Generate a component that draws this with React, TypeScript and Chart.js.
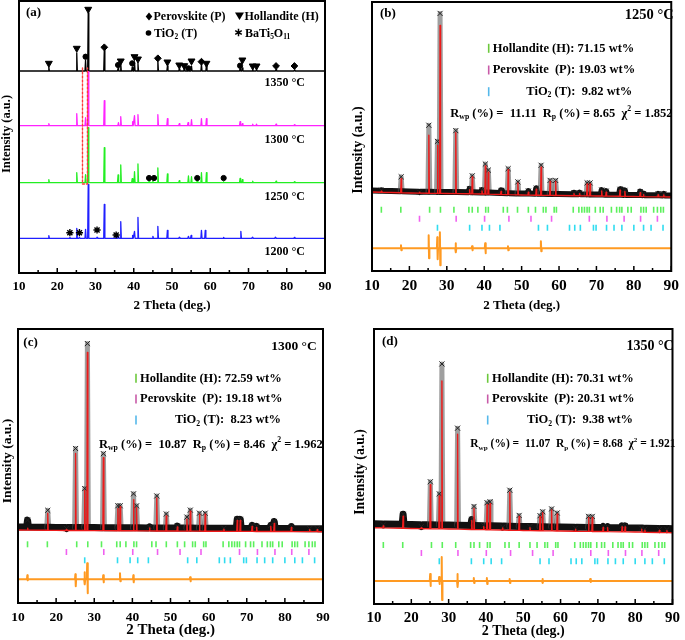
import React, { useEffect, useRef } from 'react';
import { Chart, registerables } from 'chart.js';
Chart.register(...registerables);

const FONT = '"Liberation Serif", "Times New Roman", Times, serif';

// ===================== Panel (a): stacked XRD patterns =====================
const A_LABELS = ['1200 °C', '1250 °C', '1300 °C', '1350 °C'];
const A_OFFSETS = [34.7, 90.3, 147.3, 202];
const A_COLORS = ['#2020ff', '#22ee22', '#ff22ff', '#000000'];

const A_1200_X = [17.8, 23.3, 25.1, 25.8, 27.4, 28.1, 30.4, 32.3, 35.4, 36.0, 36.6, 39.7, 40.2, 41.1, 45.0, 46.3, 48.8, 51.9, 54.3, 55.0, 57.7, 58.7, 63.5, 68.0, 71.0, 77.0, 82.0];
const A_1200_H = [2.6, 1, 10, 1, 9, 54, 1, 34, 1, 2, 16.7, 3, 7, 21, 2, 12, 8, 1, 2, 3, 8, 8, 1, 7, 1, 1, 0.8];
const A_1250_X = [17.8, 25.1, 27.4, 28.1, 32.3, 35.9, 36.6, 39.6, 40.2, 41.1, 44.0, 45.0, 46.3, 48.8, 51.9, 54.3, 55.1, 56.6, 57.7, 59.0, 63.5, 67.8, 68.4, 71.1, 77.2, 82.0];
const A_1250_H = [3, 10, 8, 55, 35, 7.7, 17.7, 4, 11, 18.7, 1.5, 1.5, 14.7, 8.7, 2, 6.7, 6, 2, 10, 10, 1, 4.3, 3, 1.5, 1.5, 1];
const A_1300_X = [17.8, 25.1, 27.4, 28.1, 32.3, 36.0, 36.6, 39.7, 40.2, 41.1, 46.3, 48.8, 51.9, 54.2, 55.1, 57.7, 59.0, 67.8, 68.4, 71.1, 72.1, 77.2, 82.0];
const A_1300_H = [2, 12, 8, 54, 25, 3, 9, 4, 10, 11, 11, 7, 2, 3, 6, 7, 7, 4, 2, 1.5, 1.5, 1.5, 1];
const A_1350_X = [17.8, 25.1, 27.4, 28.1, 32.3, 35.9, 36.6, 39.6, 40.2, 41.1, 46.3, 48.8, 51.9, 53.2, 54.3, 55.1, 57.7, 59.0, 67.8, 68.4, 71.1, 72.1, 77.2, 82.0];
const A_1350_H = [4, 18, 11, 58, 21, 3, 8, 4, 9, 8, 11, 5, 2, 2, 3, 5, 7, 6, 3, 3, 1.5, 1.5, 1.5, 1];

// phase markers in panel (a)
const A_MARK_H_X = [17.8, 25.1, 28.1, 36.6, 40.2, 41.1, 48.8, 51.9, 53.2, 55.1, 59.0, 68.4, 71.1, 72.1];
const A_MARK_H_Y = [209.7, 224.7, 263.7, 212, 216.3, 214, 211, 208, 207.3, 212, 209.7, 213, 207, 207];
const A_MARK_P_X = [32.3, 46.3, 57.7, 77.2, 82.0];
const A_MARK_P_Y = [225.7, 214.7, 211.3, 207, 207];
const A_MARK_T_X = [27.4, 35.9, 39.6, 54.3, 67.8, 44.0, 45.3, 56.6, 63.5];
const A_MARK_T_Y = [216.3, 208, 209.7, 204.7, 207.3, 95, 95, 95, 95];
const A_MARK_B_X = [23.3, 25.8, 30.4, 35.4];
const A_MARK_B_Y = [40.3, 40.3, 43, 38];
const A_BOX_X = [26.6, 26.6, 27.9, 27.9];
const A_BOX_Y = [205, 89, 89, 205];

// ===================== Rietveld panels (b), (c), (d) =====================
const BRAGG_H = [12.5, 17.7, 25.4, 28.3, 31.9, 35.9, 36.8, 38.3, 40.4, 41.1, 45.1, 46.2, 48.9, 51.8, 53.7, 55.8, 56.5, 58.7, 59.3, 63.8, 65.3, 66.1, 66.8, 67.5, 68.1, 69.7, 71.0, 71.8, 74.0, 75.4, 76.2, 76.8, 78.4, 79.3, 81.9, 82.6, 83.3, 85.3, 86.3, 87.2, 87.9];
const BRAGG_P = [22.7, 32.5, 40.1, 46.6, 52.5, 58.0, 68.1, 72.8, 77.4, 81.8, 86.3];
const BRAGG_T = [27.5, 36.1, 39.4, 41.4, 44.2, 54.5, 56.9, 62.8, 64.2, 65.7, 69.2, 69.9, 72.7, 74.7, 76.8, 80.0, 82.6, 84.6, 87.8];

const BG_X = [10, 20, 30, 40, 50, 60, 70, 80, 90];

const B_BG = [79, 78, 77.5, 77, 76, 75.5, 75, 74.5, 74];
const B_PEAK_X = [12.5, 17.8, 22.7, 25.2, 27.5, 28.2, 32.4, 36.1, 36.8, 39.4, 40.3, 41.1, 44.5, 46.4, 49.0, 51.8, 53.9, 55.2, 57.6, 59.1, 64.0, 65.5, 67.5, 68.3, 71.4, 72.6, 76.3, 77.6, 81.7, 82.6, 86.5, 88.0];
const B_OBS = [2, 16, 1, 68, 52, 180, 63, 5, 18, 4, 30, 24, 4, 26, 13, 4, 7, 30, 15, 15, 3, 3, 13, 13, 6, 5, 7, 6, 5, 3, 3, 3];
const B_CALC = [1, 14, 1, 58, 48, 168, 61, 4, 17, 3, 28, 22, 3, 25, 12, 3, 6, 28, 14, 14, 2, 2, 12, 12, 5, 4, 6, 5, 4, 2, 2, 2];
const B_DIFF_X = [17.8, 25.2, 27.5, 28.2, 32.4, 36.8, 40.3, 46.4, 55.2];
const B_DIFF_UP = [3, 13, 11, 16, 5, 2, 5, 2, 7];
const B_DIFF_DN = [2, 10, 11, 17, 4, 2, 5, 2, 3];
const B_DIFF_BASE = 22.7;
const B_ROWS = [61.3, 52.3, 43.2];

const C_BG = [73, 72.6, 72.4, 72.2, 72, 71.8, 71.6, 71.5, 71.3];
const C_PEAK_X = [12.5, 17.8, 22.7, 25.1, 27.5, 28.2, 32.4, 36.2, 36.8, 40.3, 41.1, 44.5, 46.4, 48.9, 51.8, 54.3, 55.2, 57.6, 59.1, 64.0, 67.5, 68.3, 71.4, 72.6, 76.3, 77.2, 81.7, 86.5, 88.5];
const C_OBS = [10, 20, 2, 82, 42, 187, 77, 25, 25, 37, 25, 4, 35, 17, 5, 14, 21, 18, 18, 3, 12, 12, 6, 5, 6, 10, 5, 3, 3];
const C_CALC = [2, 17, 1, 77, 40, 178, 73, 22, 24, 31, 23, 3, 33, 15, 4, 12, 20, 17, 17, 2, 11, 11, 5, 4, 5, 8, 4, 2, 2];
const C_DIFF_X = [12.5, 25.1, 27.5, 28.2, 32.4, 36.8, 40.3, 55.2];
const C_DIFF_UP = [4, 5, 7, 16, 4, 6, 4, 2];
const C_DIFF_DN = [1, 7, 5, 14, 3, 2, 3, 2];
const C_DIFF_BASE = 23.7;
const C_ROWS = [58.7, 51, 42.7];

const D_BG = [76.3, 75.5, 75, 74.3, 73.5, 73, 72.5, 72, 71.3];
const D_PEAK_X = [12.5, 17.8, 22.7, 25.1, 27.5, 28.2, 32.4, 36.2, 36.8, 39.4, 40.3, 41.1, 44.5, 46.4, 48.9, 51.8, 54.5, 55.2, 57.6, 59.1, 64.0, 67.5, 68.5, 71.4, 72.6, 76.5, 77.3, 81.7, 82.6, 86.5, 88.5];
const D_OBS = [3, 14, 2, 47, 35, 165, 101, 10, 23, 4, 27, 28, 3, 40, 15, 4, 15, 19, 22, 18, 3, 15, 15, 5, 5, 6, 6, 4, 3, 3, 3];
const D_CALC = [2, 12, 1, 44, 33, 148, 95, 9, 21, 3, 25, 26, 2, 38, 14, 3, 14, 18, 21, 17, 2, 14, 14, 4, 4, 5, 5, 3, 2, 2, 2];
const D_DIFF_X = [25.1, 27.5, 28.2, 32.4, 36.8, 40.3, 46.4, 55.2, 68];
const D_DIFF_UP = [7, 4, 24, 7, 3, 3, 2, 2, 2];
const D_DIFF_DN = [5, 3, 19, 6, 2, 3, 2, 2, 1];
const D_DIFF_BASE = 23;
const D_ROWS = [59, 51, 42.8];

// refinement results (b, c, d)
const R_TEMPS = ['1250 °C', '1300 °C', '1350 °C'];
const WT_H = [71.15, 72.59, 70.31];
const WT_P = [19.03, 19.18, 20.31];
const WT_T = [9.82, 8.23, 9.38];
const R_WP = [11.11, 10.87, 11.07];
const R_P = [8.65, 8.46, 8.68];
const CHI2 = [1.852, 1.962, 1.921];

// ===================== helpers =====================
type Pt = { x: number; y: number; m?: boolean };

function interp(xs: number[], ys: number[], x: number) {
  if (x <= xs[0]) return ys[0];
  for (let i = 1; i < xs.length; i++) {
    if (x <= xs[i]) {
      const t = (x - xs[i - 1]) / (xs[i] - xs[i - 1]);
      return ys[i - 1] + t * (ys[i] - ys[i - 1]);
    }
  }
  return ys[ys.length - 1];
}

function profile(bgX: number[], bgY: number[], px: number[], ph: number[], shift: number, hw: number): Pt[] {
  const pts: Pt[] = [];
  bgX.forEach((x, i) => {
    if (!px.some((p) => Math.abs(p - x) <= hw + 0.05)) pts.push({ x, y: bgY[i] + shift });
  });
  px.forEach((x, i) => {
    const b = interp(bgX, bgY, x);
    pts.push({ x: x - hw, y: b + shift }, { x, y: b + ph[i], m: true }, { x: x + hw, y: b + shift });
  });
  return pts.sort((a, b) => a.x - b.x);
}

function diffLine(base: number, dx: number[], up: number[], dn: number[]): Pt[] {
  const pts: Pt[] = [{ x: 10, y: base }, { x: 90, y: base }];
  dx.forEach((x, i) => {
    pts.push({ x: x - 0.15, y: base }, { x: x - 0.05, y: base + up[i] }, { x: x + 0.05, y: base - dn[i] }, { x: x + 0.15, y: base });
  });
  return pts.sort((a, b) => a.x - b.x);
}

const zip = (xs: number[], ys: number[]): Pt[] => xs.map((x, i) => ({ x, y: ys[i] }));
const row = (xs: number[], level: number): Pt[] => xs.map((x) => ({ x, y: level }));

type Seg = [string, string?];
interface TextItem { x: number; y: number; size: number; segs: Seg[]; align?: string; rot?: boolean; color?: string }

function segFont(size: number, mode?: string) {
  const s = mode === 'sub' || mode === 'sup' ? size * 0.62 : size;
  return `bold ${s}px ${FONT}`;
}

function drawRich(ctx: CanvasRenderingContext2D, t: TextItem) {
  ctx.save();
  ctx.fillStyle = t.color || '#000';
  ctx.textBaseline = 'middle';
  ctx.textAlign = 'left';
  let total = 0;
  const widths = t.segs.map(([s, m]) => {
    ctx.font = segFont(t.size, m);
    const w = ctx.measureText(s).width;
    total += w;
    return w;
  });
  ctx.translate(t.x, t.y);
  if (t.rot) ctx.rotate(-Math.PI / 2);
  let x = t.align === 'right' ? -total : t.align === 'center' ? -total / 2 : 0;
  t.segs.forEach(([s, m], i) => {
    ctx.font = segFont(t.size, m);
    const dy = m === 'sub' ? t.size * 0.3 : m === 'sup' ? -t.size * 0.35 : 0;
    ctx.fillText(s, x, dy);
    x += widths[i];
  });
  ctx.restore();
}

function drawSymbol(ctx: CanvasRenderingContext2D, type: string, x: number, y: number) {
  ctx.save();
  ctx.fillStyle = '#000';
  ctx.strokeStyle = '#000';
  ctx.beginPath();
  if (type === 'tri') {
    ctx.moveTo(x - 4.5, y - 3.5); ctx.lineTo(x + 4.5, y - 3.5); ctx.lineTo(x, y + 4); ctx.closePath(); ctx.fill();
  } else if (type === 'diamond') {
    ctx.moveTo(x, y - 4); ctx.lineTo(x + 3.3, y); ctx.lineTo(x, y + 4); ctx.lineTo(x - 3.3, y); ctx.closePath(); ctx.fill();
  } else if (type === 'dot') {
    ctx.arc(x, y, 2.8, 0, Math.PI * 2); ctx.fill();
  } else {
    ctx.lineWidth = 1.5;
    for (let k = 0; k < 3; k++) {
      const a = (k * Math.PI) / 3 + Math.PI / 2;
      ctx.moveTo(x - 3.8 * Math.cos(a), y - 3.8 * Math.sin(a));
      ctx.lineTo(x + 3.8 * Math.cos(a), y + 3.8 * Math.sin(a));
    }
    ctx.stroke();
  }
  ctx.restore();
}

// ===================== chart builders =====================
const GREEN_TICK = '#5cf05c';
const MAGENTA_TICK = '#f060f0';
const CYAN_TICK = '#30dcf0';
const GREEN_BAR = '#6cc83c';
const MAGENTA_BAR = '#c85aa8';
const CYAN_BAR = '#55b8ea';

interface PanelCfg {
  id: string; left: number; top: number; w: number; h: number;
  pad: { l: number; r: number; t: number }; axisH: number; yMax: number;
  tickSize: number; tickPad: number; titleSize: number; titlePadB: number;
  datasets: any[]; texts: TextItem[]; bars: { x: number; y: number; c: string }[];
  symbols: { t: string; x: number; y: number }[];
}

function makeConfig(cfg: PanelCfg): any {
  const decor = {
    id: 'decor' + cfg.id,
    afterDatasetsDraw(chart: any) {
      const { ctx, chartArea: ca } = chart;
      const xs = chart.scales.x;
      ctx.save();
      ctx.strokeStyle = '#000';
      ctx.lineWidth = 1.5;
      ctx.beginPath();
      for (let v = 10; v <= 90; v += 5) {
        const p = xs.getPixelForValue(v);
        const L = v % 10 === 0 ? 5 : 3;
        ctx.moveTo(p, ca.bottom);
        ctx.lineTo(p, ca.bottom - L);
      }
      ctx.stroke();
      ctx.lineWidth = 2;
      ctx.strokeRect(ca.left, ca.top, ca.right - ca.left, ca.bottom - ca.top);
      ctx.restore();
    },
    afterDraw(chart: any) {
      const ctx = chart.ctx as CanvasRenderingContext2D;
      ctx.save();
      ctx.translate(-cfg.left, -cfg.top);
      cfg.texts.forEach((t) => drawRich(ctx, t));
      cfg.bars.forEach((b) => {
        ctx.strokeStyle = b.c;
        ctx.lineWidth = 1.6;
        ctx.beginPath();
        ctx.moveTo(b.x, b.y - 4.5);
        ctx.lineTo(b.x, b.y + 4.5);
        ctx.stroke();
      });
      cfg.symbols.forEach((s) => drawSymbol(ctx, s.t, s.x, s.y));
      ctx.restore();
    },
  };
  return {
    type: 'line',
    data: { datasets: cfg.datasets },
    plugins: [decor],
    options: {
      responsive: false,
      animation: false,
      devicePixelRatio: 1,
      layout: { padding: { left: cfg.pad.l, right: cfg.pad.r, top: cfg.pad.t, bottom: 0 }, autoPadding: false },
      plugins: { legend: { display: false }, tooltip: { enabled: false } },
      elements: { point: { radius: 0 }, line: { tension: 0, borderJoinStyle: 'round', borderCapStyle: 'round' } },
      scales: {
        x: {
          type: 'linear', min: 10, max: 90,
          grid: { display: false, drawTicks: false, tickLength: 0 }, border: { display: false },
          ticks: { stepSize: 10, autoSkip: false, maxRotation: 0, padding: cfg.tickPad, color: '#000', font: { family: FONT, size: cfg.tickSize, weight: 'bold' } },
          title: { display: true, text: '2 Theta (deg.)', color: '#000', font: { family: FONT, size: cfg.titleSize, weight: 'bold' }, padding: { top: 0, bottom: cfg.titlePadB } },
          afterFit: (s: any) => { s.height = cfg.axisH; },
        },
        y: { display: false, min: 0, max: cfg.yMax },
      },
    },
  };
}

function panelA(): PanelCfg {
  const xs = [A_1200_X, A_1250_X, A_1300_X, A_1350_X];
  const hs = [A_1200_H, A_1250_H, A_1300_H, A_1350_H];
  const lines = xs.map((px, i) => ({
    data: profile([10, 90], [A_OFFSETS[i], A_OFFSETS[i]], px, hs[i], 0, 0.15),
    borderColor: A_COLORS[i], borderWidth: 1.3, pointRadius: 0, order: 3,
  }));
  const mk = (d: Pt[], style: string, r: number, rot = 0, bw = 1) => ({
    data: d, showLine: false, pointStyle: style, pointRadius: r, pointRotation: rot,
    pointBackgroundColor: '#000', pointBorderColor: '#000', pointBorderWidth: bw, order: 1,
  });
  const temps = A_LABELS.map((lab, i) => ({ x: 305, y: [251.5, 196.5, 140, 83][i], size: 12, align: 'right', segs: [[lab]] as Seg[] }));
  return {
    id: 'a', left: 0, top: 0, w: 342, h: 320,
    pad: { l: 19, r: 17, t: 1 }, axisH: 47, yMax: 272,
    tickSize: 13, tickPad: 6, titleSize: 13, titlePadB: 7,
    datasets: [
      { data: zip(A_BOX_X, A_BOX_Y), borderColor: '#ff3a3a', borderWidth: 1.4, borderDash: [2, 2], pointRadius: 0, order: 0 },
      mk(zip(A_MARK_H_X, A_MARK_H_Y), 'triangle', 4, 180),
      mk(zip(A_MARK_P_X, A_MARK_P_Y), 'rectRot', 3.4),
      mk(zip(A_MARK_T_X, A_MARK_T_Y), 'circle', 2.6),
      mk(zip(A_MARK_B_X, A_MARK_B_Y), 'star', 3.6, 0, 1.4),
      ...lines,
    ],
    texts: [
      { x: 26, y: 12.7, size: 13, segs: [['(a)']] },
      { x: 153.5, y: 16.5, size: 12, segs: [['Perovskite (P)']] },
      { x: 244.5, y: 16.5, size: 12, segs: [['Hollandite (H)']] },
      { x: 154, y: 33.5, size: 12, segs: [['TiO'], ['2', 'sub'], [' (T)']] },
      { x: 245, y: 33.5, size: 12, segs: [['BaTi'], ['5', 'sub'], ['O'], ['11', 'sub']] },
      ...temps,
      { x: 7, y: 134, size: 12.5, rot: true, align: 'center', segs: [['Intensity (a.u.)']] },
    ],
    bars: [],
    symbols: [
      { t: 'diamond', x: 149, y: 16.5 },
      { t: 'tri', x: 239.5, y: 16 },
      { t: 'dot', x: 148.5, y: 33 },
      { t: 'star', x: 238.5, y: 32.5 },
    ],
  };
}

function rietDatasets(bg: number[], px: number[], obs: number[], calc: number[], shift: number, obsW: number,
  dBase: number, dx: number[], up: number[], dn: number[], rows: number[]) {
  const steep = (c: any) => Math.abs(c.p1.y - c.p0.y) > 10;
  return [
    { data: profile(BG_X, bg, px, calc, 0, 0.12), borderColor: '#ee1a1a', borderWidth: 1.4, pointRadius: 0, order: 0 },
    {
      data: profile(BG_X, bg, px, obs, shift, 0.25), borderColor: '#111', borderWidth: obsW, order: 1,
      segment: { borderColor: (c: any) => (steep(c) ? 'rgba(80,80,80,0.55)' : undefined), borderWidth: (c: any) => (steep(c) ? 5 : undefined) },
      pointStyle: 'crossRot', pointRadius: (c: any) => (c.raw && c.raw.m ? 3.6 : 0), pointBorderColor: '#222', pointBorderWidth: 1,
    },
    { data: diffLine(dBase, dx, up, dn), borderColor: '#ff9a22', borderWidth: 2, pointRadius: 0, order: 2 },
    { data: row(BRAGG_H, rows[0]), showLine: false, pointStyle: 'line', pointRotation: 90, pointRadius: 3, pointBorderWidth: 1.6, pointBorderColor: GREEN_TICK, order: 2 },
    { data: row(BRAGG_P, rows[1]), showLine: false, pointStyle: 'line', pointRotation: 90, pointRadius: 3, pointBorderWidth: 1.6, pointBorderColor: MAGENTA_TICK, order: 2 },
    { data: row(BRAGG_T, rows[2]), showLine: false, pointStyle: 'line', pointRotation: 90, pointRadius: 3, pointBorderWidth: 1.6, pointBorderColor: CYAN_TICK, order: 2 },
  ];
}

function rietTexts(k: number, tag: string, tagX: number, tagY: number, tempX: number, tempY: number, tempSize: number,
  legX: number, legYs: number[], tiX: number, rX: number, rY: number, rSize: number, yTitleX: number, yTitleY: number, yTitleSize: number): TextItem[] {
  return [
    { x: tagX, y: tagY, size: 13, segs: [[tag]] },
    { x: tempX, y: tempY, size: tempSize, align: 'right', segs: [[R_TEMPS[k]]] },
    { x: legX, y: legYs[0], size: 12.5, segs: [[`Hollandite (H): ${WT_H[k].toFixed(2)} wt%`]] },
    { x: legX, y: legYs[1], size: 12.5, segs: [[`Perovskite  (P): ${WT_P[k].toFixed(2)} wt%`]] },
    { x: tiX, y: legYs[2], size: 12.5, segs: [['TiO'], ['2', 'sub'], [` (T):  ${WT_T[k].toFixed(2)} wt%`]] },
    {
      x: rX, y: rY, size: rSize,
      segs: [['R'], ['wp', 'sub'], [` (%) =  ${R_WP[k].toFixed(2)}  R`], ['p', 'sub'], [` (%) = ${R_P[k].toFixed(2)}  χ`], ['2', 'sup'], [` = ${CHI2[k].toFixed(3)}`]],
    },
    { x: yTitleX, y: yTitleY, size: yTitleSize, rot: true, align: 'center', segs: [['Intensity (a.u.)']] },
  ];
}

const legBars = (x: number, ys: number[]) => [
  { x, y: ys[0], c: GREEN_BAR }, { x, y: ys[1], c: MAGENTA_BAR }, { x, y: ys[2], c: CYAN_BAR },
];

function panelB(): PanelCfg {
  const ys = [48.3, 70, 91.7];
  return {
    id: 'b', left: 342, top: 0, w: 343, h: 320,
    pad: { l: 30, r: 9, t: 2 }, axisH: 49, yMax: 269,
    tickSize: 15.5, tickPad: 6, titleSize: 13, titlePadB: 7,
    datasets: rietDatasets(B_BG, B_PEAK_X, B_OBS, B_CALC, 1.5, 6, B_DIFF_BASE, B_DIFF_X, B_DIFF_UP, B_DIFF_DN, B_ROWS),
    texts: rietTexts(0, '(b)', 380, 13.3, 673.7, 15, 14.5, 492.7, ys, 526.3, 450.3, 113.3, 12.5, 358.7, 150, 14),
    bars: legBars(488.7, ys),
    symbols: [],
  };
}

function panelC(): PanelCfg {
  const ys = [378.3, 399, 420];
  return {
    id: 'c', left: 0, top: 320, w: 342, h: 320,
    pad: { l: 18, r: 19, t: 9 }, axisH: 37, yMax: 274,
    tickSize: 13.5, tickPad: 6, titleSize: 15, titlePadB: 1,
    datasets: rietDatasets(C_BG, C_PEAK_X, C_OBS, C_CALC, 3, 7, C_DIFF_BASE, C_DIFF_X, C_DIFF_UP, C_DIFF_DN, C_ROWS),
    texts: rietTexts(1, '(c)', 23.3, 342.7, 316.7, 346.7, 13.5, 140, ys, 175, 99, 444.3, 12.5, 7.5, 461, 13.5),
    bars: legBars(136, ys),
    symbols: [],
  };
}

function panelD(): PanelCfg {
  const ys = [378.3, 399, 420];
  return {
    id: 'd', left: 342, top: 320, w: 343, h: 320,
    pad: { l: 32, r: 6, t: 9 }, axisH: 36, yMax: 275,
    tickSize: 15, tickPad: 5, titleSize: 14, titlePadB: 0,
    datasets: rietDatasets(D_BG, D_PEAK_X, D_OBS, D_CALC, 4, 7, D_DIFF_BASE, D_DIFF_X, D_DIFF_UP, D_DIFF_DN, D_ROWS),
    texts: rietTexts(2, '(d)', 382, 341.7, 673.7, 346.7, 14, 492, ys, 527, 470.3, 444.3, 11.5, 360.3, 472, 13.7),
    bars: legBars(487.7, ys),
    symbols: [],
  };
}

function Panel({ cfg }: { cfg: PanelCfg }) {
  const ref = useRef<HTMLCanvasElement>(null);
  useEffect(() => {
    const chart = new Chart(ref.current as HTMLCanvasElement, makeConfig(cfg));
    return () => chart.destroy();
  }, []);
  return (
    <canvas
      ref={ref}
      width={cfg.w}
      height={cfg.h}
      style={{ position: 'absolute', left: cfg.left, top: cfg.top, width: cfg.w, height: cfg.h }}
    />
  );
}

export default function App() {
  const panels = [panelA(), panelB(), panelC(), panelD()];
  return (
    <div style={{ position: 'fixed', left: 0, top: 0, width: 685, height: 640, background: '#fff', overflow: 'hidden' }}>
      {panels.map((p) => (
        <Panel key={p.id} cfg={p} />
      ))}
    </div>
  );
}
